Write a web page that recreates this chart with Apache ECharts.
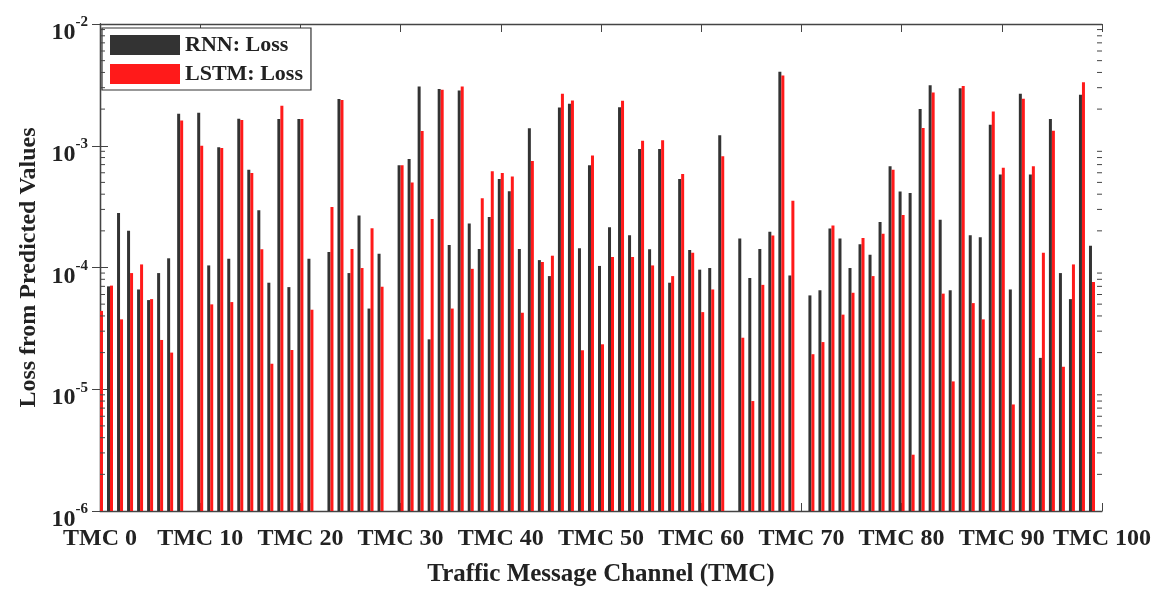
<!DOCTYPE html>
<html lang="en">

<head>
  <meta charset="UTF-8" />
  <title>RNN vs LSTM loss per TMC</title>
  <style>
    html, body { margin: 0; padding: 0; background: #fff; }
  </style>
</head>

<body>
  <div id="main" style="width: 1168px; height: 592px;"></div>
  <script src="https://cdn.jsdelivr.net/npm/echarts@6/dist/echarts.min.js"></script>
  <script type="text/javascript">
    // TMC index 0..100, null = no bar drawn
    const channels = Array.from({ length: 101 }, (_, i) => i)

    const rnnLoss = [
      null, 7.0e-5, 2.8e-4, 2.0e-4, 6.6e-5, 5.4e-5, 9.0e-5, 1.19e-4, 1.83e-3, null,
      1.87e-3, 1.04e-4, 9.7e-4, 1.18e-4, 1.67e-3, 6.35e-4, 2.95e-4, 7.5e-5, 1.66e-3, 6.9e-5,
      1.66e-3, 1.18e-4, null, 1.34e-4, 2.42e-3, 9.0e-5, 2.67e-4, 4.6e-5, 1.3e-4, null,
      6.9e-4, 7.8e-4, 3.06e-3, 2.57e-5, 2.93e-3, 1.53e-4, 2.84e-3, 2.3e-4, 1.42e-4, 2.6e-4,
      5.33e-4, 4.23e-4, 1.42e-4, 1.39e-3, 1.15e-4, 8.5e-5, 2.06e-3, 2.21e-3, 1.44e-4, 6.9e-4,
      1.03e-4, 2.14e-4, 2.07e-3, 1.84e-4, 9.4e-4, 1.41e-4, 9.4e-4, 7.5e-5, 5.33e-4, 1.39e-4,
      9.6e-5, 9.9e-5, 1.22e-3, null, 1.73e-4, 8.2e-5, 1.42e-4, 1.97e-4, 4.06e-3, 8.6e-5,
      null, 5.9e-5, 6.5e-5, 2.09e-4, 1.73e-4, 9.9e-5, 1.55e-4, 1.27e-4, 2.36e-4, 6.78e-4,
      4.2e-4, 4.1e-4, 2.0e-3, 3.14e-3, 2.47e-4, 6.5e-5, 2.97e-3, 1.84e-4, 1.77e-4, 1.49e-3,
      5.8e-4, 6.6e-5, 2.67e-3, 5.8e-4, 1.81e-5, 1.66e-3, 9.0e-5, 5.5e-5, 2.62e-3, 1.51e-4,
      null
    ]

    const lstmLoss = [
      4.4e-5, 7.1e-5, 3.75e-5, 9.0e-5, 1.06e-4, 5.5e-5, 2.54e-5, 2.0e-5, 1.61e-3, null,
      1.0e-3, 4.98e-5, 9.6e-4, 5.2e-5, 1.63e-3, 5.97e-4, 1.41e-4, 1.62e-5, 2.13e-3, 2.1e-5,
      1.66e-3, 4.5e-5, null, 3.14e-4, 2.38e-3, 1.42e-4, 9.9e-5, 2.1e-4, 6.95e-5, null,
      6.9e-4, 5.0e-4, 1.32e-3, 2.5e-4, 2.88e-3, 4.6e-5, 3.06e-3, 9.75e-5, 3.7e-4, 6.17e-4,
      5.97e-4, 5.6e-4, 4.25e-5, 7.5e-4, 1.11e-4, 1.25e-4, 2.67e-3, 2.35e-3, 2.09e-5, 8.3e-4,
      2.34e-5, 1.22e-4, 2.34e-3, 1.22e-4, 1.1e-3, 1.04e-4, 1.11e-3, 8.5e-5, 5.86e-4, 1.32e-4,
      4.3e-5, 6.6e-5, 8.2e-4, null, 2.65e-5, 8.0e-6, 7.2e-5, 1.83e-4, 3.78e-3, 3.54e-4,
      null, 1.94e-5, 2.44e-5, 2.21e-4, 4.1e-5, 6.2e-5, 1.75e-4, 8.5e-5, 1.89e-4, 6.35e-4,
      2.7e-4, 2.9e-6, 1.4e-3, 2.74e-3, 6.1e-5, 1.16e-5, 3.1e-3, 5.1e-5, 3.75e-5, 1.91e-3,
      6.6e-4, 7.5e-6, 2.43e-3, 6.78e-4, 1.32e-4, 1.33e-3, 1.53e-5, 1.06e-4, 3.33e-3, 7.6e-5,
      null
    ]

    // minor ticks of the log axis (2..9 x 10^n)
    const minorTicks = []
    for (let e = -6; e < -2; e++) {
      for (let m = 2; m <= 9; m++) minorTicks.push(m * Math.pow(10, e))
    }

    const font = "'Liberation Serif', 'Times New Roman', serif"
    const axisColor = '#444'

    function pairs(values) {
      return channels.filter(i => values[i] != null).map(i => [i, values[i]])
    }

    let myChart = echarts.init(document.getElementById('main'))

    let yAxisBase = {
      type: 'log',
      logBase: 10,
      min: 1e-6,
      max: 1e-2,
      startValue: 1e-6,
      axisLine: { show: true, lineStyle: { color: axisColor, width: 1.3 } },
      axisTick: { inside: true, length: 8, lineStyle: { color: axisColor } },
      splitLine: { show: false }
    }

    let xAxisBase = {
      type: 'value',
      min: 0,
      max: 100,
      interval: 10,
      axisLine: { show: true, lineStyle: { color: axisColor, width: 1.3 } },
      axisTick: { inside: true, length: 8, lineStyle: { color: axisColor } },
      splitLine: { show: false }
    }

    var option = {
      animation: false,
      backgroundColor: '#fff',
      grid: { left: 100, right: 66, top: 24, bottom: 80 },
      legend: {
        data: ['RNN: Loss', 'LSTM: Loss'],
        orient: 'vertical',
        left: 102,
        top: 28,
        icon: 'rect',
        itemWidth: 70,
        itemHeight: 20,
        itemGap: 7,
        padding: [6, 8, 5, 8],
        borderColor: '#333',
        borderWidth: 1.2,
        backgroundColor: '#fff',
        textStyle: { fontFamily: font, fontWeight: 'bold', fontSize: 22, color: '#222' }
      },
      xAxis: [
        Object.assign({}, xAxisBase, {
          position: 'bottom',
          name: 'Traffic Message Channel (TMC)',
          nameLocation: 'middle',
          nameGap: 51,
          nameTextStyle: { fontFamily: font, fontWeight: 'bold', fontSize: 25, color: '#222' },
          axisLabel: {
            formatter: 'TMC {value}',
            margin: 16,
            fontFamily: font,
            fontWeight: 'bold',
            fontSize: 24,
            color: '#222',
            showMinLabel: true,
            showMaxLabel: true
          }
        }),
        Object.assign({}, xAxisBase, { position: 'top', axisLabel: { show: false } })
      ],
      yAxis: [
        Object.assign({}, yAxisBase, {
          position: 'left',
          name: 'Loss from Predicted Values',
          nameLocation: 'middle',
          nameGap: 58,
          nameTextStyle: { fontFamily: font, fontWeight: 'bold', fontSize: 24, color: '#222' },
          axisLabel: {
            margin: 12,
            padding: [12, 0, 0, 0],
            formatter(value) {
              let e = Math.round(Math.log10(value))
              return '{b|10}{s|' + e + '}'
            },
            rich: {
              b: { fontFamily: font, fontWeight: 'bold', fontSize: 24, color: '#222', lineHeight: 30, verticalAlign: 'bottom' },
              s: { fontFamily: font, fontWeight: 'bold', fontSize: 15, color: '#222', verticalAlign: 'top' }
            }
          }
        }),
        Object.assign({}, yAxisBase, { position: 'right', axisLabel: { show: false } })
      ],
      series: [
        {
          name: 'RNN: Loss',
          type: 'bar',
          data: pairs(rnnLoss),
          barWidth: 3,
          barGap: '0%',
          clip: true,
          itemStyle: { color: '#333333' }
        },
        {
          name: 'LSTM: Loss',
          type: 'bar',
          data: pairs(lstmLoss),
          barWidth: 3,
          barGap: '0%',
          clip: true,
          itemStyle: { color: '#ff1a1a' }
        },
        {
          // minor log ticks on both sides of the box
          type: 'custom',
          silent: true,
          z: 5,
          data: minorTicks.map(v => [50, v]),
          renderItem(params, api) {
            let v = api.value(1)
            let l = api.coord([0, v])
            let r = api.coord([100, v])
            let style = { stroke: axisColor, lineWidth: 1 }
            return {
              type: 'group',
              children: [
                { type: 'line', shape: { x1: l[0], y1: l[1], x2: l[0] + 5, y2: l[1] }, style },
                { type: 'line', shape: { x1: r[0] - 5, y1: r[1], x2: r[0], y2: r[1] }, style }
              ]
            }
          }
        }
      ]
    }

    myChart.setOption(option)
  </script>
</body>

</html>
